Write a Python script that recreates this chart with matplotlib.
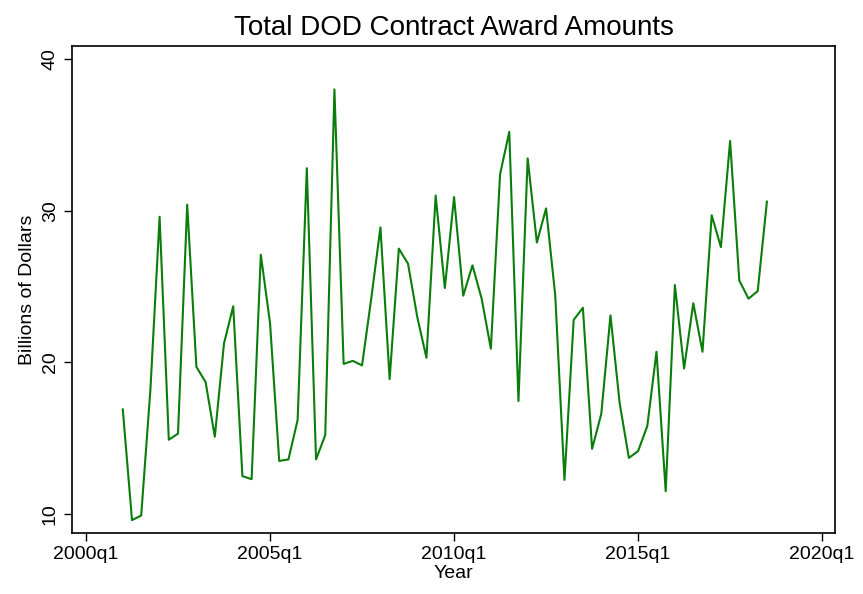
import numpy as np
import matplotlib
matplotlib.use("Agg")
import matplotlib.pyplot as plt

plt.rcParams['font.family'] = ['Liberation Sans', 'DejaVu Sans']

# quarterly series, 2001q1 .. 2018q3 (billions of dollars)
amounts = [16.9, 9.6, 9.9, 18.2, 29.6, 14.9, 15.3, 30.4, 19.7, 18.7,
           15.1, 21.25, 23.7, 12.5, 12.3, 27.1, 22.6, 13.5, 13.6, 16.2,
           32.8, 13.6, 15.2, 38.0, 19.9, 20.1, 19.8, 24.2, 28.9, 18.9,
           27.5, 26.5, 23.0, 20.3, 31.0, 24.9, 30.9, 24.4, 26.4, 24.2,
           20.9, 32.4, 35.2, 17.45, 33.45, 27.9, 30.15, 24.4, 12.25, 22.8,
           23.6, 14.3, 16.6, 23.1, 17.3, 13.7, 14.15, 15.8, 20.7, 11.5,
           25.1, 19.6, 23.9, 20.7, 29.7, 27.6, 34.6, 25.4, 24.2, 24.7,
           30.6]
start_year = 2001
quarters = start_year + np.arange(len(amounts)) / 4.0

tick_years = [2000, 2005, 2010, 2015, 2020]
tick_labels = [f"{y}q1" for y in tick_years]

fig = plt.figure(figsize=(8.63, 5.94), dpi=100)
ax = fig.add_axes([72/863, 1 - 533/594, (835-72)/863, (533-46)/594])
ax.plot(quarters, amounts, color='#0a7d0a', linewidth=1.5)

ax.set_xlim(1999.62, 2020.35)
ax.set_ylim(8.75, 40.86)
ax.set_xticks(tick_years)
ax.set_xticklabels(tick_labels)
ax.set_yticks([10, 20, 30, 40])
ax.tick_params(axis='both', labelsize=14, length=6, width=1)
plt.setp(ax.get_yticklabels(), rotation=90, va='center')
ax.set_xlabel('Year', fontsize=14, labelpad=1)
ax.set_ylabel('Billions of Dollars', fontsize=14, labelpad=4)
ax.set_title('Total DOD Contract Award Amounts', fontsize=20, pad=8)
for s in ax.spines.values():
    s.set_linewidth(1.2)

fig.savefig('out.png', dpi=100)
